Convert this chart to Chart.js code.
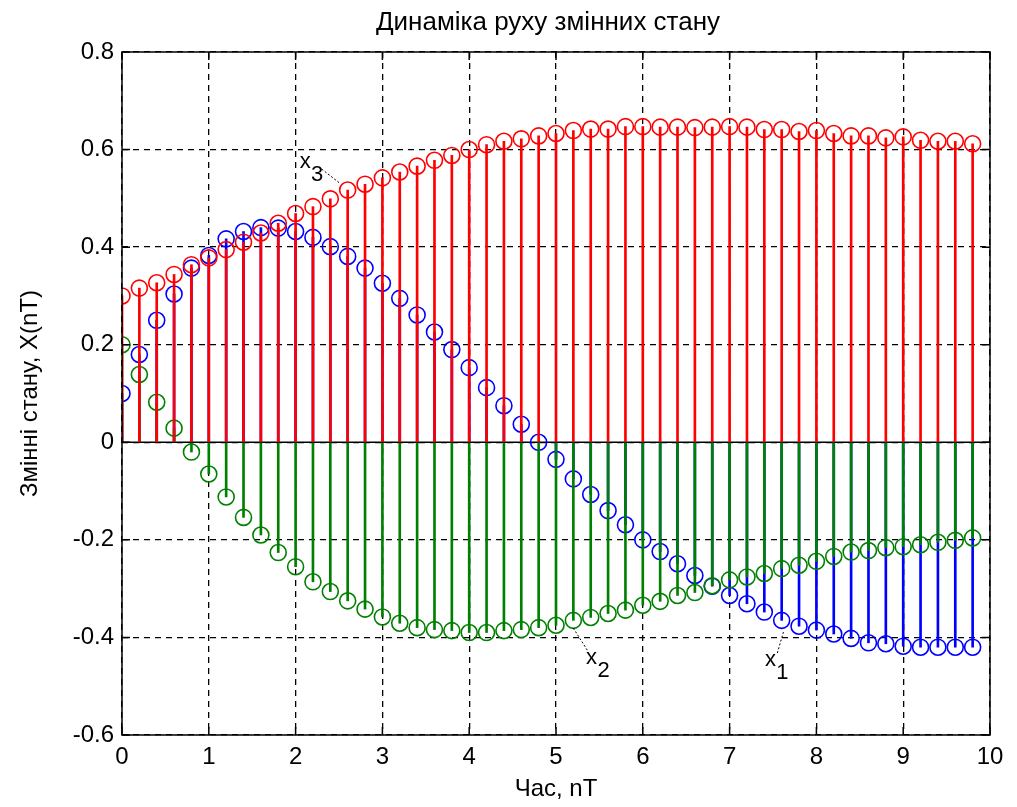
<!DOCTYPE html>
<html>
<head>
<meta charset="utf-8">
<script src="https://cdn.jsdelivr.net/npm/chart.js@4.4.1/dist/chart.umd.min.js"></script>
<style>
  html, body { margin: 0; padding: 0; background: #fff; }
  #wrap { width: 1017px; height: 807px; }
</style>
</head>
<body>
<div id="wrap"><canvas id="chart" width="1017" height="807"></canvas></div>
<script>
// time samples, nT
const t = [0, 0.2, 0.4, 0.6, 0.8, 1.0, 1.2, 1.4, 1.6, 1.8,
  2.0, 2.2, 2.4, 2.6, 2.8, 3.0, 3.2, 3.4, 3.6, 3.8,
  4.0, 4.2, 4.4, 4.6, 4.8, 5.0, 5.2, 5.4, 5.6, 5.8,
  6.0, 6.2, 6.4, 6.6, 6.8, 7.0, 7.2, 7.4, 7.6, 7.8,
  8.0, 8.2, 8.4, 8.6, 8.8, 9.0, 9.2, 9.4, 9.6, 9.8];

const x1 = [0.10, 0.18, 0.25, 0.304, 0.357, 0.383, 0.417, 0.432, 0.44, 0.439,
  0.432, 0.42, 0.401, 0.381, 0.357, 0.326, 0.295, 0.261, 0.226, 0.19,
  0.153, 0.112, 0.075, 0.037, 0.0, -0.035, -0.075, -0.107, -0.14, -0.169,
  -0.2, -0.224, -0.249, -0.273, -0.295, -0.314, -0.331, -0.348, -0.365, -0.377,
  -0.385, -0.393, -0.402, -0.411, -0.413, -0.418, -0.42, -0.42, -0.42, -0.42];

const x2 = [0.2, 0.139, 0.082, 0.029, -0.02, -0.065, -0.112, -0.154, -0.19, -0.226,
  -0.255, -0.286, -0.306, -0.325, -0.342, -0.358, -0.371, -0.38, -0.384, -0.386,
  -0.39, -0.39, -0.386, -0.384, -0.38, -0.375, -0.365, -0.359, -0.351, -0.344,
  -0.334, -0.326, -0.314, -0.308, -0.294, -0.282, -0.276, -0.269, -0.259, -0.252,
  -0.244, -0.234, -0.225, -0.222, -0.216, -0.214, -0.21, -0.205, -0.201, -0.196];

const x3 = [0.30, 0.316, 0.327, 0.344, 0.364, 0.378, 0.395, 0.41, 0.429, 0.449,
  0.469, 0.483, 0.499, 0.517, 0.529, 0.542, 0.554, 0.566, 0.578, 0.588,
  0.6, 0.61, 0.617, 0.622, 0.628, 0.633, 0.639, 0.642, 0.642, 0.647,
  0.647, 0.646, 0.646, 0.645, 0.646, 0.647, 0.646, 0.641, 0.641, 0.637,
  0.639, 0.633, 0.628, 0.628, 0.624, 0.626, 0.619, 0.617, 0.617, 0.612];

const xTicks = [0, 1, 2, 3, 4, 5, 6, 7, 8, 9, 10];
const yTicks = [-0.6, -0.4, -0.2, 0, 0.2, 0.4, 0.6, 0.8];

const titleText = 'Динаміка руху змінних стану';

// curve labels: [text, subscript, labelX, labelY, lineFromX, lineFromY, lineToX, lineToY]
const curveLabels = [
  ['x', '3', 2.11, 0.574, 2.30, 0.560, 2.51, 0.531],
  ['x', '2', 5.41, -0.443, 5.36, -0.426, 5.20, -0.381],
  ['x', '1', 7.47, -0.447, 7.55, -0.432, 7.62, -0.389]
];

const FONT = 'Liberation Sans, Arial, sans-serif';

function pts(ys) {
  return t.map((x, i) => ({ x: x, y: ys[i] }));
}
function stems(ys) {
  return t.map((x, i) => ({ x: x, y: [0, ys[i]] }));
}

function stemSet(ys, color, order) {
  return {
    type: 'bar', data: stems(ys), backgroundColor: color, borderWidth: 0,
    barThickness: 2, grouped: false, order: order
  };
}
function markSet(ys, color, order) {
  return {
    type: 'scatter', data: pts(ys), borderColor: color, backgroundColor: 'rgba(0,0,0,0)',
    pointRadius: 8, pointHoverRadius: 8, borderWidth: 1.6, order: order
  };
}

// box, inward ticks, zero baseline, title and curve labels
const matlabAxes = {
  id: 'matlabAxes',
  beforeDatasetsDraw(chart) {
    const { ctx, chartArea: a, scales: { y } } = chart;
    ctx.save();
    ctx.strokeStyle = '#000';
    ctx.lineWidth = 1.5;
    ctx.beginPath();
    ctx.moveTo(a.left, y.getPixelForValue(0));
    ctx.lineTo(a.right, y.getPixelForValue(0));
    ctx.stroke();
    ctx.restore();
  },
  afterDatasetsDraw(chart) {
    const { ctx, chartArea: a, scales: { x, y } } = chart;
    ctx.save();
    ctx.strokeStyle = '#000';
    ctx.lineWidth = 1.5;
    ctx.strokeRect(a.left, a.top, a.right - a.left, a.bottom - a.top);
    ctx.beginPath();
    const len = 8;
    xTicks.forEach(v => {
      const px = x.getPixelForValue(v);
      ctx.moveTo(px, a.bottom); ctx.lineTo(px, a.bottom - len);
      ctx.moveTo(px, a.top); ctx.lineTo(px, a.top + len);
    });
    yTicks.forEach(v => {
      const py = y.getPixelForValue(v);
      ctx.moveTo(a.left, py); ctx.lineTo(a.left + len, py);
      ctx.moveTo(a.right, py); ctx.lineTo(a.right - len, py);
    });
    ctx.stroke();

    ctx.fillStyle = '#000';
    ctx.textAlign = 'center';
    ctx.textBaseline = 'middle';
    ctx.font = '26px ' + FONT;
    ctx.fillText(titleText, (a.left + a.right) / 2 - 8, 23);

    ctx.lineWidth = 1;
    curveLabels.forEach(l => {
      ctx.setLineDash([2, 2]);
      ctx.beginPath();
      ctx.moveTo(x.getPixelForValue(l[4]), y.getPixelForValue(l[5]));
      ctx.lineTo(x.getPixelForValue(l[6]), y.getPixelForValue(l[7]));
      ctx.stroke();
      ctx.setLineDash([]);
      const lx = x.getPixelForValue(l[2]);
      const ly = y.getPixelForValue(l[3]);
      ctx.font = '22px ' + FONT;
      ctx.fillText(l[0], lx, ly);
      ctx.fillText(l[1], lx + 12, ly + 13);
    });
    ctx.restore();
  }
};

new Chart('chart', {
  type: 'scatter',
  data: {
    datasets: [
      markSet(x3, '#ff0000', 0), stemSet(x3, '#ff0000', 1),
      markSet(x2, '#008000', 2), stemSet(x2, '#008000', 3),
      markSet(x1, '#0000ff', 4), stemSet(x1, '#0000ff', 5)
    ]
  },
  options: {
    responsive: false,
    animation: false,
    layout: { padding: { left: 0, right: 27, top: 52, bottom: 0 } },
    plugins: {
      legend: { display: false },
      tooltip: { enabled: false },
      title: { display: false }
    },
    scales: {
      x: {
        type: 'linear', min: 0, max: 10, offset: false,
        afterBuildTicks: s => { s.ticks = xTicks.map(v => ({ value: v })); },
        afterFit: s => { s.height = 72; },
        ticks: { color: '#000', font: { family: FONT, size: 24 }, padding: 8, maxRotation: 0,
          callback: v => String(v) },
        grid: { color: '#000', lineWidth: 1.3, drawTicks: false, offset: false },
        border: { display: false, dash: [6, 5] },
        title: { display: true, text: 'Час, nT', color: '#000',
          font: { family: FONT, size: 24 }, padding: { top: 4, bottom: 3 } }
      },
      y: {
        type: 'linear', min: -0.6, max: 0.8,
        afterBuildTicks: s => { s.ticks = yTicks.map(v => ({ value: v })); },
        afterFit: s => { s.width = 122; },
        ticks: { color: '#000', font: { family: FONT, size: 24 }, padding: 8,
          callback: v => String(v) },
        grid: { color: '#000', lineWidth: 1.3, drawTicks: false },
        border: { display: false, dash: [6, 5] },
        title: { display: true, text: 'Змінні стану, X(nT)', color: '#000',
          font: { family: FONT, size: 24 }, padding: { top: 16, bottom: 4 } }
      }
    }
  },
  plugins: [matlabAxes]
});
</script>
</body>
</html>
